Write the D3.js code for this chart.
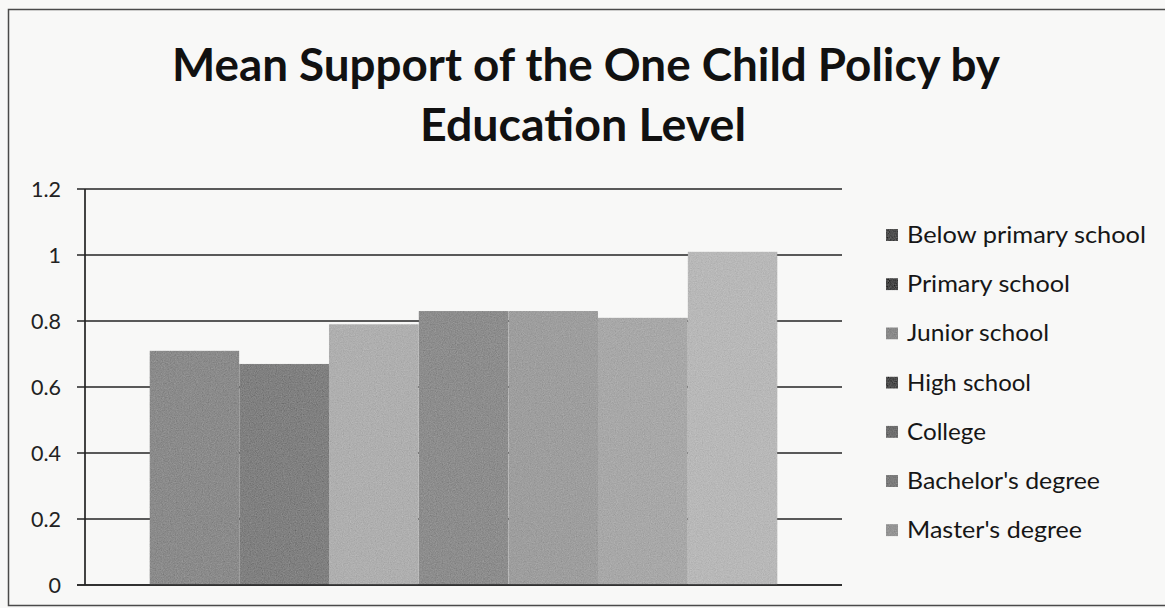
<!DOCTYPE html>
<html>
<head>
<meta charset="utf-8">
<script src="https://cdn.jsdelivr.net/npm/d3@7"></script>
<style>
  html, body { margin: 0; padding: 0; background: #f8f8f7; }
  svg { display: block; }
</style>
</head>
<body>
<svg id="chart" width="1165" height="608"></svg>
<script>
// Mean support score per education level
const categories = [
  "Below primary school",
  "Primary school",
  "Junior school",
  "High school",
  "College",
  "Bachelor's degree",
  "Master's degree"
];
const values = [0.71, 0.67, 0.79, 0.83, 0.83, 0.81, 1.01];
const barColors = ["#8b8b8b", "#808080", "#afafaf", "#8d8d8d", "#9e9e9e", "#a8a8a8", "#b8b8b8"];
const swatchColors = ["#4f4f4f", "#474747", "#8a8a8a", "#4c4c4c", "#6e6e6e", "#7c7c7c", "#959595"];
const yTicks = [0, 0.2, 0.4, 0.6, 0.8, 1, 1.2];
const titleLines = ["Mean Support of the One Child Policy by", "Education Level"];

const svg = d3.select("#chart");
const font = "Lato, 'Open Sans', sans-serif";

// grain texture for the bar fills
const defs = svg.append("defs");
const grain = defs.append("filter").attr("id", "grain")
  .attr("x", 0).attr("y", 0).attr("width", 1).attr("height", 1);
grain.append("feTurbulence").attr("type", "fractalNoise")
  .attr("baseFrequency", 0.85).attr("numOctaves", 2).attr("seed", 7).attr("result", "noise");
grain.append("feColorMatrix").attr("in", "noise").attr("type", "matrix")
  .attr("values", "0.33 0.33 0.33 0 0  0.33 0.33 0.33 0 0  0.33 0.33 0.33 0 0  0 0 0 0 1")
  .attr("result", "gray");
grain.append("feComposite").attr("in", "SourceGraphic").attr("in2", "gray")
  .attr("operator", "arithmetic").attr("k1", 0).attr("k2", 1).attr("k3", 0.3).attr("k4", -0.15)
  .attr("result", "mix");
grain.append("feComposite").attr("in", "mix").attr("in2", "SourceGraphic").attr("operator", "in");

// outer chart frame
svg.append("path")
  .attr("d", "M1165,9.5 H8.5 V605.5 H1165")
  .attr("fill", "none").attr("stroke", "#4a4a4a").attr("stroke-width", 1.5);

// title
const title = svg.append("g").attr("font-family", font).attr("font-weight", 700)
  .attr("fill", "#111").attr("text-anchor", "middle");
title.append("text").attr("x", 586).attr("y", 81).attr("font-size", 46)
  .attr("textLength", 828).attr("lengthAdjust", "spacingAndGlyphs").text(titleLines[0]);
title.append("text").attr("x", 583).attr("y", 141).attr("font-size", 46)
  .attr("textLength", 326).attr("lengthAdjust", "spacingAndGlyphs").text(titleLines[1]);

// scales
const plotLeft = 85, plotRight = 842;
const y = d3.scaleLinear().domain([0, 1.2]).range([585, 189]);
const x = d3.scaleBand().domain(categories).range([plotLeft, plotRight])
  .paddingInner(0).paddingOuter(0.72);

// horizontal gridlines (extend left as tick marks)
svg.append("g").selectAll("line").data(yTicks).join("line")
  .attr("x1", plotLeft - 8).attr("x2", plotRight)
  .attr("y1", d => y(d)).attr("y2", d => y(d))
  .attr("stroke", "#242424").attr("stroke-width", 1.7);

// y axis labels
const yAxis = svg.append("g").attr("transform", `translate(${plotLeft - 8},0)`)
  .call(d3.axisLeft(y).tickValues(yTicks).tickSize(0).tickPadding(16).tickFormat(d3.format("~g")));
yAxis.select(".domain").remove();
yAxis.selectAll("text").attr("font-family", font).attr("font-size", 21.5).attr("fill", "#222")
  .attr("dy", "0.36em");

// bars
svg.append("g").selectAll("rect").data(categories).join("rect")
  .attr("x", d => x(d)).attr("width", x.bandwidth())
  .attr("y", (d, i) => y(values[i]))
  .attr("height", (d, i) => y(0) - y(values[i]))
  .attr("fill", (d, i) => barColors[i])
  .attr("filter", "url(#grain)");

// vertical axis line and baseline on top
svg.append("line").attr("x1", plotLeft).attr("x2", plotLeft)
  .attr("y1", y(1.2)).attr("y2", y(0))
  .attr("stroke", "#242424").attr("stroke-width", 1.7);
svg.append("line").attr("x1", plotLeft - 8).attr("x2", plotRight)
  .attr("y1", y(0)).attr("y2", y(0))
  .attr("stroke", "#242424").attr("stroke-width", 1.7);

// legend
const legendWidths = [239, 163, 142, 124, 79, 193, 175];
const legend = svg.append("g").attr("font-family", font);
const item = legend.selectAll("g").data(categories).join("g")
  .attr("transform", (d, i) => `translate(886,${235 + i * 49.2})`);
item.append("rect").attr("x", 0).attr("y", -6).attr("width", 12).attr("height", 12)
  .attr("fill", (d, i) => swatchColors[i]).attr("filter", "url(#grain)");
item.append("text").attr("x", 21).attr("y", 8).attr("font-size", 22.5).attr("fill", "#161616")
  .attr("textLength", (d, i) => legendWidths[i]).attr("lengthAdjust", "spacingAndGlyphs")
  .text(d => d);
</script>
</body>
</html>
